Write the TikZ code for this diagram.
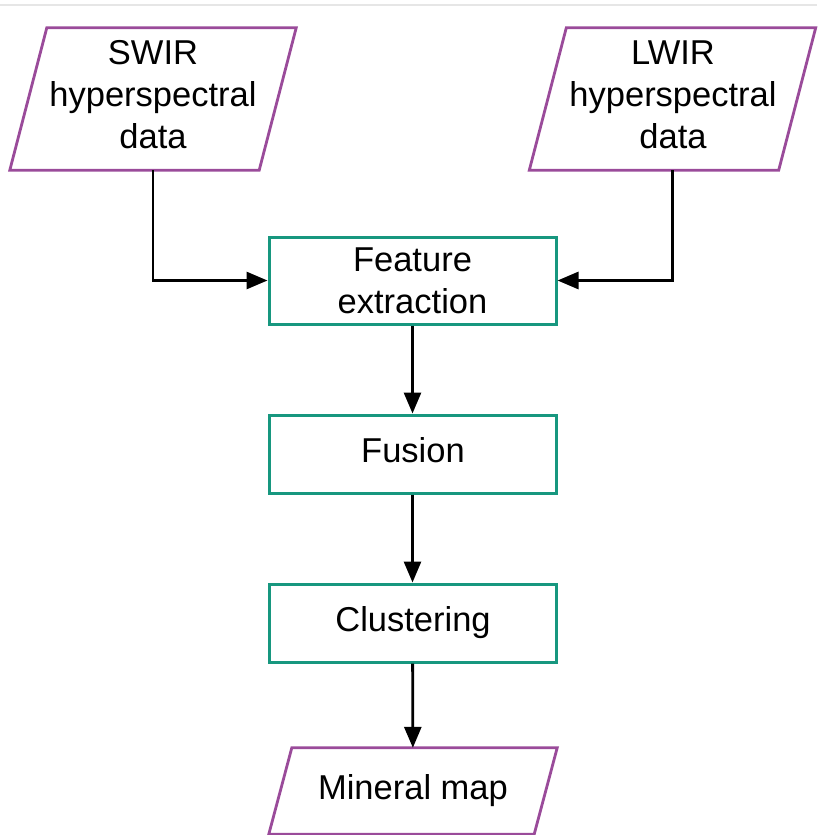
\documentclass[tikz,border=0pt]{standalone}
\usepackage{fontspec}
\setmainfont{Liberation Sans}
\usetikzlibrary{arrows.meta,calc}
\definecolor{ioline}{HTML}{9A4B9A}
\definecolor{procline}{HTML}{17977F}
\definecolor{topline}{HTML}{E6E6E6}
\tikzset{
  txt/.style={inner sep=0pt, align=center, font=\fontsize{34.5}{42}\selectfont},
  frame/.style={inner sep=0pt},
  procbox/.style={draw=procline, line width=3pt, inner sep=0pt, minimum width=287pt, align=center, font=\fontsize{34.5}{42}\selectfont},
  ioshape/.style={draw=ioline, line width=2.8pt, line join=miter},
  conn/.style={line width=2.8pt, -{Triangle[length=21pt,width=17pt]}},
}
\begin{document}
\begin{tikzpicture}[x=1pt,y=-1pt]
\useasboundingbox (0,0) rectangle (817,835);
\draw[topline, line width=1.2pt] (0,5) -- (817,5);
% input parallelograms
\node[frame, minimum width=249pt, minimum height=142pt] (swir) at (153,99) {};
\node[txt] (swirt) at (153,94.5) {SWIR\\hyperspectral\\data};
\draw[ioshape] ($(swir.north west)+(18.5,0)$) -- ($(swir.north east)+(18.5,0)$) -- ($(swir.south east)+(-18.5,0)$) -- ($(swir.south west)+(-18.5,0)$) -- cycle;
\node[frame, minimum width=249pt, minimum height=142pt] (lwir) at (672.5,99) {};
\node[txt] (lwirt) at (673,94.5) {LWIR\\hyperspectral\\data};
\draw[ioshape] ($(lwir.north west)+(18.5,0)$) -- ($(lwir.north east)+(18.5,0)$) -- ($(lwir.south east)+(-18.5,0)$) -- ($(lwir.south west)+(-18.5,0)$) -- cycle;
% process boxes
\node[procbox, minimum height=87pt] (feat) at (412.5,280.5) {Feature\\extraction};
\node[procbox, minimum height=78pt] (fus) at (412.5,454) {};
\node[txt] (fust) at (413,450) {Fusion};
\node[procbox, minimum height=78pt] (clu) at (412.5,623) {};
\node[txt] (clut) at (413,622.5) {Clustering};
% output parallelogram
\node[txt, minimum width=265pt, minimum height=86pt] (mmap) at (413,791) {Mineral map};
\draw[ioshape] ($(mmap.north west)+(11.5,0)$) -- ($(mmap.north east)+(11.5,0)$) -- ($(mmap.south east)+(-11.5,0)$) -- ($(mmap.south west)+(-11.5,0)$) -- cycle;
% connectors
\draw[conn] (swir.south) |- (feat.west);
\draw[conn] (lwir.south) |- (feat.east);
\draw[conn] (feat) -- (fus);
\draw[conn] (fus) -- (clu);
\draw[conn] (clu) -- (mmap);
\end{tikzpicture}
\end{document}
